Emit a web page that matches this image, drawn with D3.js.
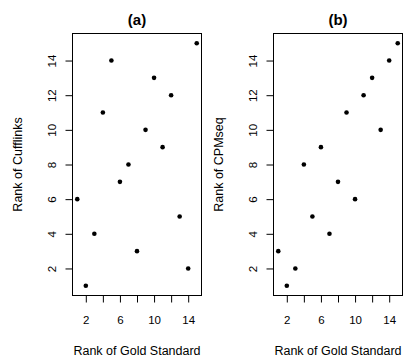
<!DOCTYPE html>
<html>
<head>
<meta charset="utf-8">
<script src="https://cdn.jsdelivr.net/npm/d3@7"></script>
<style>
body { margin: 0; background: #fff; }
svg text { font-family: "Liberation Sans", Arial, sans-serif; }
</style>
</head>
<body>
<svg id="chart" width="405" height="359"></svg>
<script>
// 금 표준 순위 (x축)
var goldRank = [1,2,3,4,5,6,7,8,9,10,11,12,13,14,15];
// (a) Cufflinks 순위
var cufflinksRank = [6,1,4,11,14,7,8,3,10,13,9,12,5,2,15];
// (b) CPMseq 순위
var cpmseqRank = [3,1,2,8,5,9,4,7,11,6,12,13,10,14,15];
var tickValues = [2,4,6,8,10,12,14];
var xLabelTicks = [2,6,10,14];

var panels = [
	{ title: "(a)", ylab: "Rank of Cufflinks", y: cufflinksRank, left: 72.5 },
	{ title: "(b)", ylab: "Rank of CPMseq", y: cpmseqRank, left: 273.5 }
];

var svg = d3.select("#chart");
var boxW = 129, boxTop = 33.5, boxBottom = 295.5;	// window.top 충돌 피하기

panels.forEach(function(p){
	var x = d3.scaleLinear().domain([0.44, 15.56]).range([p.left, p.left + boxW]);
	var y = d3.scaleLinear().domain([0.44, 15.56]).range([boxBottom, boxTop]);
	var g = svg.append("g");

	// 박스
	g.append("rect")
		.attr("x", p.left).attr("y", boxTop)
		.attr("width", boxW).attr("height", boxBottom - boxTop)
		.attr("fill", "none").attr("stroke", "#000").attr("stroke-width", 1);

	// x축
	var xa = g.append("g")
		.attr("transform", "translate(0," + boxBottom + ")")
		.call(d3.axisBottom(x).tickValues(tickValues).tickSize(7).tickSizeOuter(0)
			.tickFormat(function(d){ return xLabelTicks.indexOf(d) >= 0 ? d : ""; }));
	xa.select(".domain").attr("d", "M" + x(2) + ",0H" + x(14));
	xa.selectAll("text").attr("y", 28).attr("dy", 0).attr("font-size", 11.5).attr("fill", "#000");

	// y축
	var ya = g.append("g")
		.attr("transform", "translate(" + p.left + ",0)")
		.call(d3.axisLeft(y).tickValues(tickValues).tickSize(7).tickSizeOuter(0));
	ya.select(".domain").attr("d", "M0," + y(2) + "V" + y(14));
	ya.selectAll("text")
		.attr("x", 0).attr("y", 0).attr("dy", 0)
		.attr("text-anchor", "middle").attr("font-size", 11.5).attr("fill", "#000")
		.attr("transform", "translate(-21,0) rotate(-90) translate(0,4)");

	// 점
	g.selectAll("circle")
		.data(goldRank)
		.enter()
		.append("circle")
		.attr("cx", function(d){ return x(d); })
		.attr("cy", function(d, i){ return y(p.y[i]); })
		.attr("r", 2.3)
		.attr("fill", "#000");

	// 제목
	g.append("text")
		.attr("x", p.left + boxW / 2).attr("y", 25)
		.attr("text-anchor", "middle").attr("font-size", 15).attr("font-weight", "bold")
		.text(p.title);

	// x축 이름
	g.append("text")
		.attr("x", p.left + boxW / 2).attr("y", 355)
		.attr("text-anchor", "middle").attr("font-size", 12.5)
		.text("Rank of Gold Standard");

	// y축 이름
	g.append("text")
		.attr("transform", "translate(" + (p.left - 51) + "," + ((boxTop + boxBottom) / 2) + ") rotate(-90)")
		.attr("text-anchor", "middle").attr("font-size", 12.5)
		.text(p.ylab);
});
</script>
</body>
</html>
